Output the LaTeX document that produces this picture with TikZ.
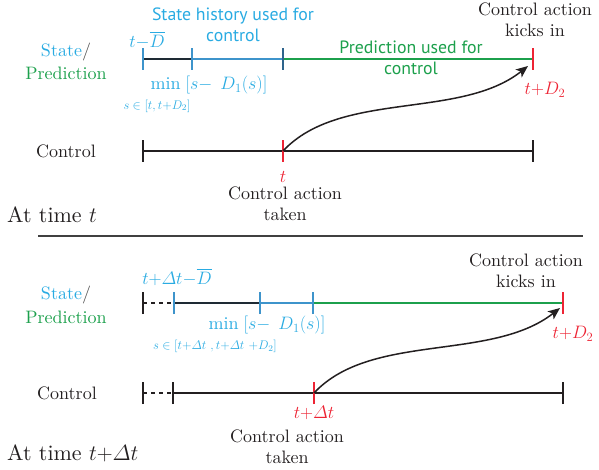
\documentclass[tikz,border=0pt]{standalone}
\usepackage{fix-cm}
\usepackage{amsmath}
\usepackage{fontspec}
\setmainfont{lmroman10-regular.otf}[ItalicFont=lmroman10-italic.otf,BoldFont=lmroman10-bold.otf]
\newfontfamily\labsans{PT Sans}
\usetikzlibrary{arrows.meta}
\definecolor{skyb}{RGB}{41,171,226}
\definecolor{lineb}{RGB}{62,148,203}
\definecolor{darkb}{RGB}{46,100,140}
\definecolor{grn}{RGB}{28,160,76}
\definecolor{redc}{RGB}{237,36,52}
\definecolor{ink}{RGB}{35,31,32}
\definecolor{segdark}{RGB}{30,42,52}
\definecolor{slashc}{RGB}{80,80,80}
\tikzset{
 serif/.style={font=\fontsize{18}{21}\selectfont, text=ink, inner sep=0pt, align=center},
 sanslab/.style={font=\labsans\fontsize{17.8}{20.5}\selectfont, inner sep=0pt, align=center},
 smallm/.style={font=\fontsize{12.5}{14}\selectfont, text=skyb, inner sep=0pt},
 big/.style={font=\fontsize{22}{26}\selectfont, text=ink, inner sep=0pt, anchor=west},
 stateln/.style={line width=2pt},
 ctrlln/.style={line width=1.4pt, draw=ink},
 dashln/.style={line width=1.4pt, dash pattern=on 4pt off 4pt},
 tickmk/.style={line width=1.8pt},
 kick/.style={line width=1.5pt, draw=ink, -{Stealth[length=12pt,width=10pt,inset=3pt]}},
 sepln/.style={line width=2pt, draw=black!75},
}
\newcommand{\tk}[2]{\draw[tickmk,#1] ([yshift=-11pt]#2) -- ([yshift=11pt]#2);}
\begin{document}
\begin{tikzpicture}[x=1pt,y=-1pt]
\useasboundingbox (0,0) rectangle (599,470);
% ---------- top panel ----------
\coordinate (a0) at (143,59);
\coordinate (a1) at (192,59);
\coordinate (a2) at (283,59);
\coordinate (a3) at (533,59);
\coordinate (c0) at (143,151);
\coordinate (c1) at (283,151);
\coordinate (c2) at (533,151);
\coordinate (kt) at (528,66);
\draw[stateln,segdark] (a0) -- (a1);
\draw[stateln,lineb] (a1) -- (a2);
\draw[stateln,grn] (a2) -- (a3);
\draw[ctrlln] (c0) -- (c2);
\tk{lineb}{a0}
\tk{lineb}{a1}
\tk{darkb}{a2}
\tk{redc}{a3}
\tk{ink}{c0}
\tk{redc}{c1}
\tk{ink}{c2}
\draw[kick] (c1) .. controls (340,90) and (460,120) .. (kt);

\node[serif] (st1) at (66,52) {\textcolor{skyb}{State}\textcolor{slashc}{/}};
\node[serif,text=grn] (pr1) at (66,73) {Prediction};
\node[serif,text=skyb] (tdb1) at (147,40) {$t{-}\overline{D}$};
\node[sanslab,text=skyb] (sh1) at (233,25) {State history used for\\control};
\node[serif,text=skyb] (mn1) at (209,85) {$\min\;[s{-}\;\,D_{1}(s)]$};
\node[smallm] (si1) at (157,106) {$s\in[t,t{+}D_2]$};
\node[sanslab,text=grn] (pu1) at (411,58) {Prediction used for\\control};
\node[serif] (ck1) at (535,20) {Control action\\kicks in};
\node[serif,text=redc] (td1) at (545,90) {$t{+}D_2$};
\node[serif] (cl1) at (66,151) {Control};
\node[serif,text=redc] (t1) at (283,177) {$t$};
\node[serif] (ca1) at (285,204) {Control action\\taken};
\node[big] (at1) at (7,215) {At time $t$};

% separator
\coordinate (s0) at (38,236);
\coordinate (s1) at (583,236);
\draw[sepln] (s0) -- (s1);

% ---------- bottom panel ----------
\coordinate (b0) at (143,303);
\coordinate (b1) at (174,303);
\coordinate (b2) at (260,303);
\coordinate (b3) at (313,303);
\coordinate (b4) at (563,303);
\coordinate (d0) at (143,393);
\coordinate (d1) at (173,393);
\coordinate (d2) at (314,393);
\coordinate (d3) at (563,393);
\coordinate (kb) at (560,308);
\draw[dashln,ink] (b0) -- (b1);
\draw[stateln,segdark] (b1) -- (b2);
\draw[stateln,lineb] (b2) -- (b3);
\draw[stateln,grn] (b3) -- (b4);
\draw[dashln,ink] (d0) -- (d1);
\draw[ctrlln] (d1) -- (d3);
\tk{ink}{b0}
\tk{lineb}{b1}
\tk{lineb}{b2}
\tk{lineb}{b3}
\tk{redc}{b4}
\tk{ink}{d0}
\tk{ink}{d1}
\tk{redc}{d2}
\tk{ink}{d3}
\draw[kick] (d2) .. controls (371,332) and (491,362) .. (kb);

\node[serif] (st2) at (66,295) {\textcolor{skyb}{State}\textcolor{slashc}{/}};
\node[serif,text=grn] (pr2) at (66,317) {Prediction};
\node[serif,text=skyb] (tdb2) at (177,277) {$t{+}\varDelta t{-}\overline{D}$};
\node[serif,text=skyb] (mn2) at (267,325) {$\min\;[s{-}\;\,D_{1}(s)]$};
\node[smallm] (si2) at (215,346) {$s\in[t{+}\varDelta t\ ,t{+}\varDelta t\ {+}D_2]$};
\node[serif] (ck2) at (526,271) {Control action\\kicks in};
\node[serif,text=redc] (td2) at (573,334) {$t{+}D_2$};
\node[serif] (cl2) at (67,393) {Control};
\node[serif,text=redc] (t2) at (314,413) {$t{+}\varDelta t$};
\node[serif] (ca2) at (287,447) {Control action\\taken};
\node[big] (at2) at (7,453) {At time $t{+}\varDelta t$};
\end{tikzpicture}
\end{document}
